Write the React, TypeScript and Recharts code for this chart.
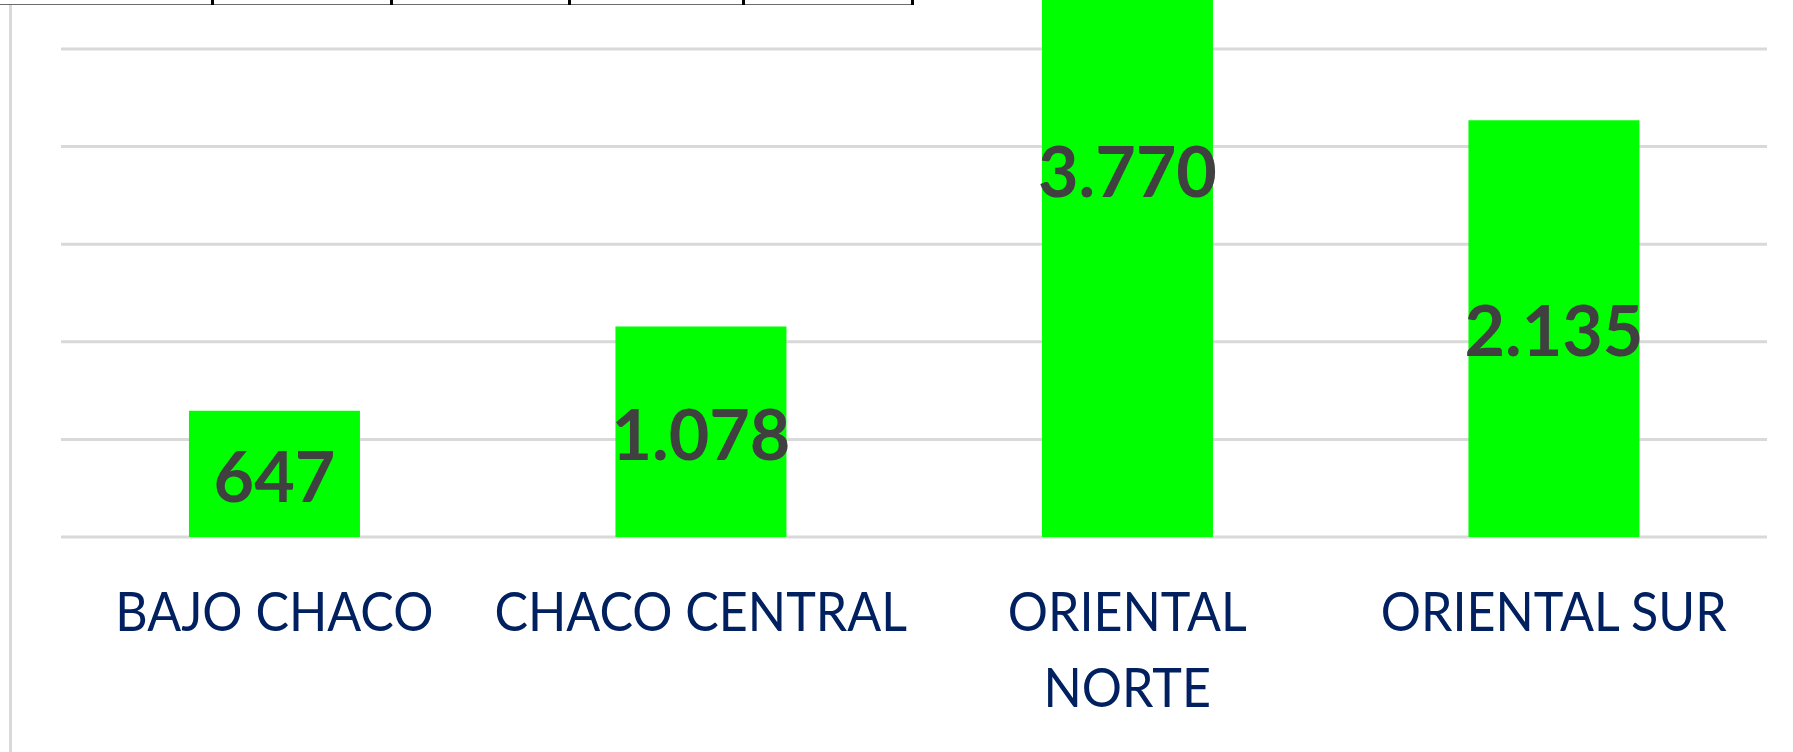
import { BarChart, Bar, XAxis, YAxis, CartesianGrid, LabelList } from 'recharts';

const regiones = ['BAJO CHACO', 'CHACO CENTRAL', 'ORIENTAL NORTE', 'ORIENTAL SUR'];
const cantidades = [647, 1078, 3770, 2135];
const yTicks = [0, 500, 1000, 1500, 2000, 2500, 3000, 3500, 4000];

const data = regiones.map((region, i) => ({ region, cantidad: cantidades[i] }));

// separador de miles con punto, como en la hoja original
const formatMiles = (v: number | string) =>
  String(v).replace(/\B(?=(\d{3})+(?!\d))/g, '.');

// borde de la tabla que asoma arriba del gráfico (recorte de la hoja)
const tableCellEdges = [212, 391, 569, 743, 912];

function RegionTick({ x, y, payload }: any) {
  const words = String(payload.value).split(' ');
  const lines: string[] = [];
  let cur = '';
  words.forEach((w) => {
    const next = cur ? cur + ' ' + w : w;
    if (next.length > 13 && cur) {
      lines.push(cur);
      cur = w;
    } else {
      cur = next;
    }
  });
  lines.push(cur);
  // Lato es más ancha que Calibri: se estrecha un poco en horizontal
  return (
    <g transform={`translate(${x},${y}) scale(0.93,1)`}>
      <text x={0} y={0} textAnchor="middle" fill="#002060" fontSize={54} fontFamily="Lato">
        {lines.map((line, i) => (
          <tspan key={i} x={0} dy={i === 0 ? 94 : 76}>
            {line}
          </tspan>
        ))}
      </text>
    </g>
  );
}

export default function App() {
  return (
    <div
      style={{
        position: 'fixed',
        top: 0,
        left: 0,
        width: 1793,
        height: 752,
        overflow: 'hidden',
        background: '#fff',
      }}
    >
      {/* borde izquierdo del área del gráfico */}
      <div style={{ position: 'absolute', left: 9, top: 4, width: 3, height: 760, background: '#d9d9d9' }} />

      <div style={{ position: 'absolute', top: -300, left: 0 }}>
        <BarChart
          width={1793}
          height={1037}
          data={data}
          margin={{ top: 56, right: 26, left: 61, bottom: 0 }}
          barCategoryGap="30%"
        >
          <CartesianGrid vertical={false} stroke="#d9d9d9" strokeWidth={3} />
          <YAxis hide domain={[0, 4000]} ticks={yTicks} />
          <XAxis
            dataKey="region"
            height={200}
            axisLine={false}
            tickLine={false}
            tickSize={0}
            tickMargin={0}
            interval={0}
            tick={<RegionTick />}
          />
          <Bar dataKey="cantidad" fill="#00ff00" isAnimationActive={false}>
            <LabelList
              dataKey="cantidad"
              position="center"
              formatter={formatMiles}
              fill="#404040"
              fontSize={70}
              fontWeight="bold"
              fontFamily="Lato"
              dy={3}
            />
          </Bar>
        </BarChart>
      </div>

      {/* línea de la tabla superior */}
      <div style={{ position: 'absolute', left: 0, top: 4, width: 913, height: 1, background: '#6b6b6b' }} />
      {tableCellEdges.map((x) => (
        <div
          key={x}
          style={{ position: 'absolute', left: x - 1, top: 0, width: 3, height: 5, background: '#000' }}
        />
      ))}
    </div>
  );
}
